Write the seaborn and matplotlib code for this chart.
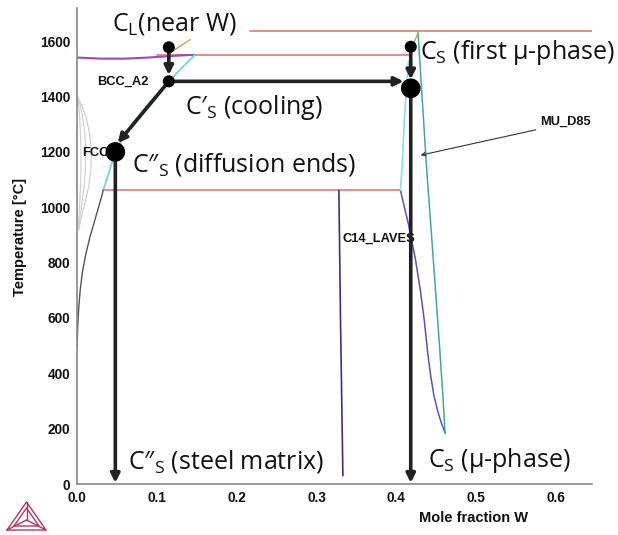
import matplotlib
matplotlib.use("Agg")
import matplotlib.pyplot as plt
from matplotlib.lines import Line2D
import seaborn as sns

# phase boundaries (x = mole fraction W, T in degC)
purple_top_x = [0.0, 0.03, 0.06, 0.09, 0.12, 0.148]
purple_top_t = [1541, 1537, 1537, 1541, 1547, 1551]
olive_left_x = [0.113, 0.128, 0.142]
olive_left_t = [1551, 1580, 1606]
cyan_bcc_x = [0.148, 0.13, 0.115, 0.09, 0.07, 0.055, 0.045, 0.033]
cyan_bcc_t = [1551, 1500, 1454, 1375, 1305, 1235, 1172, 1062]
fcc_x = [0.033, 0.028, 0.022, 0.016, 0.011, 0.007, 0.004, 0.002, 0.0008, 0.0]
fcc_t = [1062, 1010, 950, 890, 830, 770, 700, 630, 560, 485]
arc_t = [1400, 1370, 1320, 1260, 1200, 1140, 1080, 1020, 970, 920]
arc1_x = [0.0, 0.006, 0.012, 0.016, 0.018, 0.0175, 0.015, 0.0105, 0.006, 0.002]
arc2_x = [0.0, 0.004, 0.0075, 0.010, 0.011, 0.0105, 0.009, 0.0065, 0.004, 0.002]
arc3_x = [0.0, 0.002, 0.0035, 0.0045, 0.005, 0.005, 0.0045, 0.0035, 0.0025, 0.002]
c14_x = [0.328, 0.330, 0.333]
c14_t = [1060, 600, 30]
purple_mu_x = [0.405, 0.415, 0.424, 0.430, 0.435, 0.439, 0.443, 0.447, 0.452, 0.457, 0.461]
purple_mu_t = [1062, 940, 810, 700, 590, 480, 390, 320, 260, 215, 184]
teal_mu_x = [0.427, 0.434, 0.438, 0.444, 0.449, 0.454, 0.458, 0.461]
teal_mu_t = [1635, 1317, 1135, 900, 700, 500, 330, 184]
cyan_mu_x = [0.417, 0.415, 0.41, 0.407, 0.405]
cyan_mu_t = [1533, 1523, 1317, 1135, 1062]
olive_right_x = [0.421, 0.428]
olive_right_t = [1588, 1635]

# invariant lines
red_t = [1638, 1551, 1061]
red_x0 = [0.217, 0.10, 0.033]
red_x1 = [0.645, 0.417, 0.405]

# compositions marked on the diagram
small_dot_x = [0.115, 0.115, 0.418]
small_dot_t = [1578, 1455, 1580]
big_dot_x = [0.048, 0.418]
big_dot_t = [1200, 1430]

sns.set_style("white")
plt.rcParams['font.family'] = ['Liberation Sans', 'DejaVu Sans']
plt.rcParams['mathtext.fontset'] = 'custom'
plt.rcParams['mathtext.rm'] = 'Open Sans'

fig = plt.figure(figsize=(6.18, 5.35), dpi=100)
ax = fig.add_axes([77 / 618, 51 / 535, 515 / 618, 476 / 535])

for x0, x1, t in zip(red_x0, red_x1, red_t):
    sns.lineplot(x=[x0, x1], y=[t, t], color='#e8767c', lw=1.2, ax=ax)

curves = [
    (arc1_x, arc_t, '#d2d2d2', 0.9),
    (arc2_x, arc_t, '#d2d2d2', 0.9),
    (arc3_x, arc_t, '#d2d2d2', 0.9),
    (purple_top_x, purple_top_t, '#9a4cb4', 1.5),
    (olive_left_x, olive_left_t, '#b8ad4a', 1.0),
    (cyan_bcc_x, cyan_bcc_t, '#77d3df', 1.3),
    (fcc_x, fcc_t, '#555555', 1.0),
    (c14_x, c14_t, '#34347e', 1.2),
    (purple_mu_x, purple_mu_t, '#5b50c6', 1.1),
    (teal_mu_x, teal_mu_t, '#3ea99c', 1.1),
    (cyan_mu_x, cyan_mu_t, '#8cdde6', 1.2),
    (olive_right_x, olive_right_t, '#b8ad4a', 1.0),
]
for cx, ct, col, lw in curves:
    sns.lineplot(x=cx, y=ct, sort=False, estimator=None, color=col, lw=lw, ax=ax)

# small phase labels
lab = dict(fontsize=9.3, fontweight='bold', color='#111111', va='center', zorder=2)
ax.text(0.025, 1454, 'BCC_A2', **lab)
ax.text(0.006, 1197, 'FCC', **lab)
ax.text(0.332, 886, 'C14_LAVES', **lab)
ax.text(0.580, 1309, 'MU_D85', **lab)
ax.annotate('', xy=(0.427, 1186), xytext=(0.578, 1282),
            arrowprops=dict(arrowstyle='->', lw=0.8, color='#333333', mutation_scale=7))

# thick black arrows
arrows = [
    ((0.115, 1578), (0.115, 1478)),
    ((0.122, 1455), (0.409, 1455)),
    ((0.115, 1455), (0.051, 1232)),
    ((0.048, 1200), (0.048, 4)),
    ((0.418, 1580), (0.418, 1462)),
    ((0.418, 1430), (0.418, 4)),
]
for (xa, ya), (xb, yb) in arrows:
    ax.annotate('', xy=(xb, yb), xytext=(xa, ya), zorder=4,
                arrowprops=dict(arrowstyle='-|>', lw=2.6, color='#222222',
                                mutation_scale=13, shrinkA=0, shrinkB=0))

sns.scatterplot(x=small_dot_x, y=small_dot_t, s=75, color='black', edgecolor='none', zorder=5, ax=ax)
sns.scatterplot(x=big_dot_x, y=big_dot_t, s=200, color='black', edgecolor='none', zorder=5, ax=ax)

# large annotations
big = dict(fontsize=18, family=['Open Sans', 'DejaVu Sans'], color='#111111', va='center', zorder=6)
ax.text(0.044, 1662, r'C$_\mathregular{L}$(near W)', **big)
ax.text(0.429, 1558, r'C$_\mathregular{S}$ (first μ-phase)', **big)
ax.text(0.135, 1362, 'C\u2032' + r'$_\mathregular{S}$ (cooling)', **big)
ax.text(0.069, 1156, 'C\u2033' + r'$_\mathregular{S}$ (diffusion ends)', **big)
ax.text(0.064, 80, 'C\u2033' + r'$_\mathregular{S}$ (steel matrix)', **big)
ax.text(0.440, 84, r'C$_\mathregular{S}$ (μ-phase)', **big)

ax.set_xlim(0, 0.645)
ax.set_ylim(0, 1720)
ax.set_xticks([0.0, 0.1, 0.2, 0.3, 0.4, 0.5, 0.6])
ax.set_xticklabels(['0.0', '0.1', '0.2', '0.3', '0.4', '0.5', '0.6'])
ax.set_yticks([0, 200, 400, 600, 800, 1000, 1200, 1400, 1600])
ax.tick_params(axis='both', direction='out', length=3, width=0.8, color='#888888',
               labelsize=9.8, labelcolor='#111111', pad=2)
for lbl in ax.get_xticklabels() + ax.get_yticklabels():
    lbl.set_fontweight('bold')
for s in ['top', 'right']:
    ax.spines[s].set_visible(False)
for s in ['left', 'bottom']:
    ax.spines[s].set_color('#888888')
    ax.spines[s].set_linewidth(1.2)

ax.set_xlabel('Mole fraction W', fontsize=10.5, fontweight='bold', color='#111111')
ax.set_ylabel('Temperature [°C]', fontsize=10.5, fontweight='bold', color='#111111')
ax.xaxis.set_label_coords(0.77, -0.056)
ax.yaxis.set_label_coords(-0.098, 0.52)

# Thermo-Calc style logo, bottom left
def px(x, y):
    return x / 618, 1 - y / 535

logo = '#b8345f'
outer = [(7, 530), (46, 530), (26.5, 502), (7, 530)]
inner = [(14, 526), (39, 526), (26.5, 508), (14, 526)]
ctr = (26.5, 520)
for pts in (outer, inner):
    xs, ys = zip(*[px(*p) for p in pts])
    fig.add_artist(Line2D(xs, ys, color=logo, lw=1.0))
for p in [(7, 530), (46, 530), (26.5, 502)]:
    xs, ys = zip(px(*p), px(*ctr))
    fig.add_artist(Line2D(xs, ys, color=logo, lw=1.0))

fig.savefig('out.png', dpi=100)
